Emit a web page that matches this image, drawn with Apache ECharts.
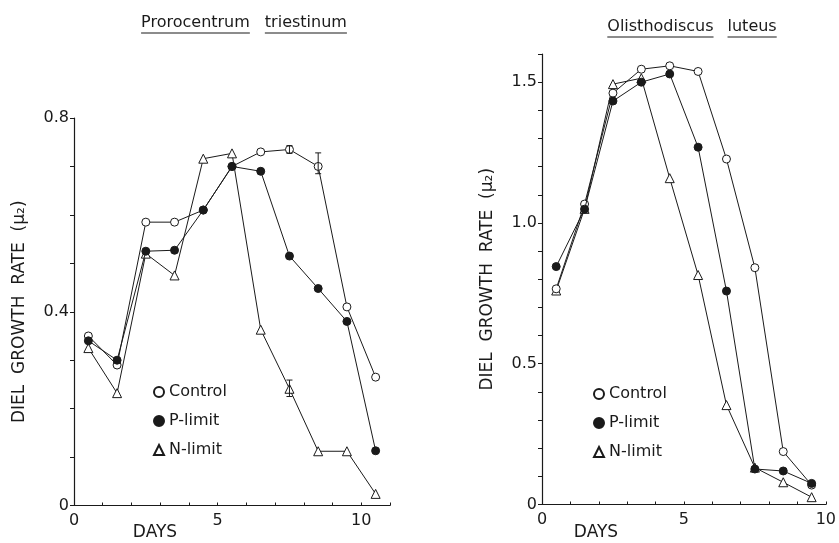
<!DOCTYPE html>
<html>
<head>
<meta charset="utf-8">
<script src="https://cdn.jsdelivr.net/npm/echarts@6/dist/echarts.min.js"></script>
<style>
  html, body { margin: 0; padding: 0; background: #fff; }
  #chart { width: 839px; height: 543px; }
</style>
</head>
<body>
<div id="chart"></div>
<script>
// Prorocentrum triestinum (left)
const daysA = [0.5, 1.5, 2.5, 3.5, 4.5, 5.5, 6.5, 7.5, 8.5, 9.5, 10.5]
const controlA = [0.35, 0.29, 0.585, 0.585, 0.61, 0.70, 0.73, 0.735, 0.70, 0.41, 0.265]
const pLimitA = [0.34, 0.30, 0.525, 0.527, 0.61, 0.70, 0.69, 0.515, 0.448, 0.38, 0.113]
const nLimitA = [0.325, 0.232, 0.52, 0.475, 0.716, 0.727, 0.363, 0.241, 0.112, 0.112, 0.024]
// error bars: [day, low, high]
const errorA = [[7.5, 0.727, 0.743], [8.5, 0.685, 0.728], [7.5, 0.225, 0.259]]

// Olisthodiscus luteus (right)
const daysB = [0.5, 1.5, 2.5, 3.5, 4.5, 5.5, 6.5, 7.5, 8.5, 9.5]
const controlB = [0.766, 1.067, 1.461, 1.546, 1.558, 1.538, 1.227, 0.841, 0.188, 0.069]
const pLimitB = [0.845, 1.049, 1.433, 1.50, 1.529, 1.269, 0.758, 0.126, 0.119, 0.075]
const nLimitB = [0.76, 1.05, 1.493, 1.514, 1.159, 0.815, 0.353, 0.131, 0.079, 0.026]

const titleLeft = ['Prorocentrum', 'triestinum']
const titleRight = ['Olisthodiscus', 'luteus']

const ink = '#1a1a1a'
const font = 'DejaVu Sans'
const titleFont = '16px "DejaVu Sans"'

const pair = (xs, ys) => xs.map((x, i) => [x, ys[i]])

// measure text so the underline fits the word
const measureCtx = document.createElement('canvas').getContext('2d')
function textWidth(text, f) {
  measureCtx.font = f
  return measureCtx.measureText(text).width
}

function lineSeries(name, xs, ys, idx, symbol, filled, size) {
  return {
    name: name,
    type: 'line',
    xAxisIndex: idx,
    yAxisIndex: idx,
    data: pair(xs, ys),
    symbol: symbol,
    symbolSize: size,
    showAllSymbol: true,
    lineStyle: { color: ink, width: 1 },
    itemStyle: { color: filled ? ink : '#fff', borderColor: ink, borderWidth: 1 },
    emphasis: { disabled: true },
    animation: false,
    z: filled ? 4 : 3
  }
}

function xAxisCfg(idx, max) {
  return {
    type: 'value',
    gridIndex: idx,
    min: 0,
    max: max,
    interval: 1,
    axisLine: { lineStyle: { color: ink, width: 1.2 } },
    axisTick: { show: true, inside: true, length: 3, lineStyle: { color: ink } },
    axisLabel: {
      color: ink, fontFamily: font, fontSize: 16, margin: 7,
      formatter: v => (v % 5 === 0 ? String(v) : '')
    },
    splitLine: { show: false }
  }
}

function yAxisCfg(idx, max, labelEvery, name, gap) {
  return {
    type: 'value',
    gridIndex: idx,
    min: 0,
    max: max,
    interval: 0.1,
    name: name,
    nameLocation: 'middle',
    nameGap: gap,
    nameTextStyle: { color: ink, fontFamily: font, fontSize: 17 },
    axisLine: { show: true, lineStyle: { color: ink, width: 1.2 } },
    axisTick: { show: true, length: 4, lineStyle: { color: ink } },
    axisLabel: {
      color: ink, fontFamily: font, fontSize: 16, margin: 5,
      formatter: v => {
        const k = Math.round(v * 10)
        if (k % labelEvery !== 0) return ''
        return k === 0 ? '0' : (k / 10).toFixed(1)
      }
    },
    splitLine: { show: false }
  }
}

function legendCfg(left, top) {
  return {
    orient: 'vertical',
    left: left,
    top: top,
    itemWidth: 10,
    itemHeight: 10,
    itemGap: 13,
    selectedMode: false,
    textStyle: { color: ink, fontFamily: font, fontSize: 16 },
    data: [
      { name: 'Control', icon: 'circle' },
      { name: 'P-limit', icon: 'circle' },
      { name: 'N-limit', icon: 'triangle' }
    ]
  }
}

// two underlined words centred on cx
function underlinedTitle(cx, baseY, words, gap) {
  const ws = words.map(t => textWidth(t, titleFont))
  let x = cx - (ws[0] + ws[1] + gap) / 2
  const out = []
  words.forEach((t, i) => {
    out.push({
      type: 'text', x: x, y: baseY,
      style: { text: t, fill: ink, font: titleFont, textAlign: 'left', textVerticalAlign: 'bottom' }
    })
    out.push({
      type: 'line',
      shape: { x1: x, y1: baseY + 2, x2: x + ws[i], y2: baseY + 2 },
      style: { stroke: ink, lineWidth: 1.2 }
    })
    x += ws[i] + gap
  })
  return out
}

const chart = echarts.init(document.getElementById('chart'), null, { renderer: 'canvas' })

const option = {
  backgroundColor: '#fff',
  animation: false,
  grid: [
    { left: 74, top: 118, width: 316, height: 387.5, containLabel: false },
    { left: 542, top: 54, width: 286, height: 450.5, containLabel: false }
  ],
  xAxis: [xAxisCfg(0, 11), xAxisCfg(1, 10)],
  yAxis: [
    yAxisCfg(0, 0.8, 4, 'DIEL  GROWTH  RATE  (μ₂)', 46),
    yAxisCfg(1, 1.6, 5, 'DIEL  GROWTH  RATE  (μ₂)', 46)
  ],
  legend: [legendCfg(148, 379), legendCfg(588, 381)],
  graphic: [
    ...underlinedTitle(244, 31, titleLeft, 15),
    ...underlinedTitle(692, 35, titleRight, 14),
    { type: 'text', x: 155, y: 533, style: { text: 'DAYS', fill: ink, font: '17px "DejaVu Sans"', textAlign: 'center', textVerticalAlign: 'middle' } },
    { type: 'text', x: 596, y: 533, style: { text: 'DAYS', fill: ink, font: '17px "DejaVu Sans"', textAlign: 'center', textVerticalAlign: 'middle' } }
  ],
  series: [
    lineSeries('N-limit', daysA, nLimitA, 0, 'triangle', false, 9),
    lineSeries('Control', daysA, controlA, 0, 'circle', false, 8),
    lineSeries('P-limit', daysA, pLimitA, 0, 'circle', true, 8),
    {
      type: 'custom',
      xAxisIndex: 0,
      yAxisIndex: 0,
      data: errorA,
      z: 5,
      renderItem: (params, api) => {
        const lo = api.coord([api.value(0), api.value(1)])
        const hi = api.coord([api.value(0), api.value(2)])
        const w = 3
        const st = { stroke: ink, lineWidth: 1 }
        return {
          type: 'group',
          children: [
            { type: 'line', shape: { x1: lo[0], y1: lo[1], x2: hi[0], y2: hi[1] }, style: st },
            { type: 'line', shape: { x1: lo[0] - w, y1: lo[1], x2: lo[0] + w, y2: lo[1] }, style: st },
            { type: 'line', shape: { x1: hi[0] - w, y1: hi[1], x2: hi[0] + w, y2: hi[1] }, style: st }
          ]
        }
      }
    },
    lineSeries('N-limit', daysB, nLimitB, 1, 'triangle', false, 9),
    lineSeries('Control', daysB, controlB, 1, 'circle', false, 8),
    lineSeries('P-limit', daysB, pLimitB, 1, 'circle', true, 8)
  ]
}

chart.setOption(option)
</script>
</body>
</html>
